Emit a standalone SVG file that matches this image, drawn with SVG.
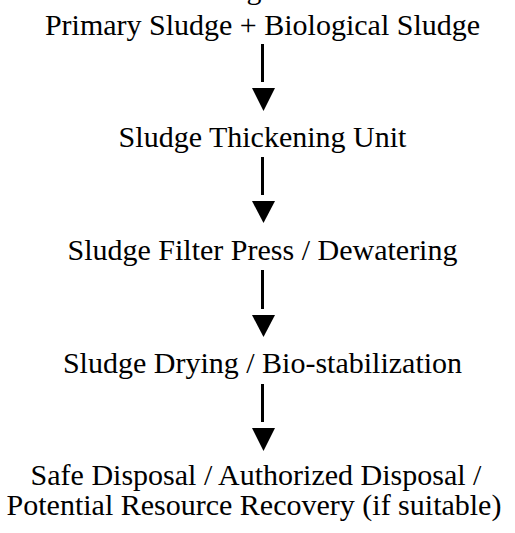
<svg xmlns="http://www.w3.org/2000/svg" width="515" height="533" viewBox="0 0 515 533">
<style>
.t{font-family:"Liberation Serif","Times New Roman",serif;font-size:30px;fill:#000;text-anchor:middle}
.ln{stroke:#000;stroke-width:3;fill:none}
.hd{fill:#000}
</style>
<rect width="515" height="533" fill="#fff"/>
<g id="top-cut"><text class="t" x="254" y="-1">g</text></g>
<g id="n1"><text class="t" x="262.5" y="35">Primary Sludge + Biological Sludge</text></g>
<g id="n2"><text class="t" x="262.5" y="147">Sludge Thickening Unit</text></g>
<g id="n3"><text class="t" x="262.5" y="260">Sludge Filter Press / Dewatering</text></g>
<g id="n4"><text class="t" x="262.5" y="373">Sludge Drying / Bio-stabilization</text></g>
<g id="n5"><text class="t" x="256" y="485">Safe Disposal / Authorized Disposal /</text><text class="t" x="254" y="515">Potential Resource Recovery (if suitable)</text></g>
<g id="connectors">
<line class="ln" x1="262.5" y1="44" x2="262.5" y2="82"/>
<polygon class="hd" points="252,88 275,88 263.5,111"/>
<line class="ln" x1="262.5" y1="157" x2="262.5" y2="195"/>
<polygon class="hd" points="252,201 275,201 263.5,223"/>
<line class="ln" x1="262.5" y1="270" x2="262.5" y2="309"/>
<polygon class="hd" points="252,315 275,315 263.5,337"/>
<line class="ln" x1="262.5" y1="384" x2="262.5" y2="422"/>
<polygon class="hd" points="252,428 275,428 263.5,451"/>
</g>
</svg>
